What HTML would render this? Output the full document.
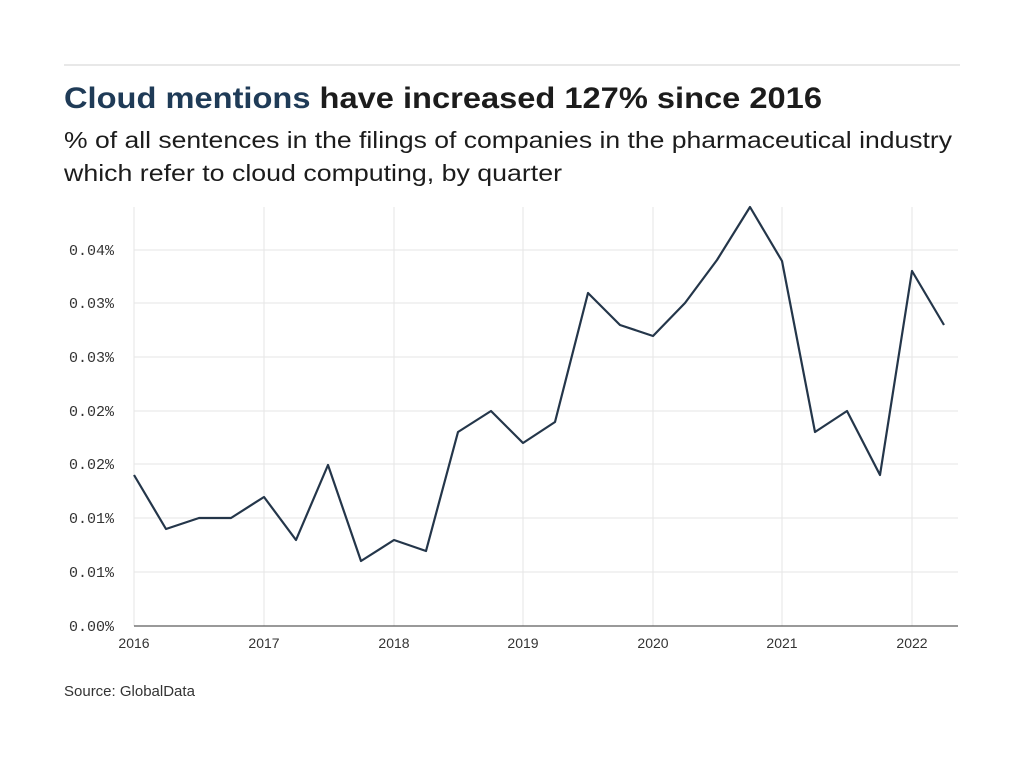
<!DOCTYPE html>
<html><head><meta charset="utf-8"><style>
body{margin:0;background:#fff;width:1024px;height:768px;overflow:hidden;font-family:"Liberation Sans",sans-serif;}
</style></head><body>
<svg width="1024" height="768" xmlns="http://www.w3.org/2000/svg">
<line x1="64" y1="65" x2="960" y2="65" stroke="#d0d0d0" stroke-width="1"/>
<text x="64" y="108" font-size="30" font-weight="bold" fill="#1c1c1c" textLength="758" lengthAdjust="spacingAndGlyphs"><tspan fill="#1f3b57">Cloud mentions</tspan> have increased 127% since 2016</text>
<text x="64" y="148" font-size="23" fill="#1c1c1c" textLength="888" lengthAdjust="spacingAndGlyphs">% of all sentences in the filings of companies in the pharmaceutical industry</text>
<text x="64" y="181" font-size="23" fill="#1c1c1c" textLength="498" lengthAdjust="spacingAndGlyphs">which refer to cloud computing, by quarter</text>
<g stroke="#e6e6e6" stroke-width="1">
<line x1="134" y1="572" x2="958" y2="572"/><line x1="134" y1="518" x2="958" y2="518"/>
<line x1="134" y1="464" x2="958" y2="464"/><line x1="134" y1="411" x2="958" y2="411"/>
<line x1="134" y1="357" x2="958" y2="357"/><line x1="134" y1="303" x2="958" y2="303"/>
<line x1="134" y1="250" x2="958" y2="250"/>
<line x1="134" y1="207" x2="134" y2="626"/><line x1="264" y1="207" x2="264" y2="626"/>
<line x1="394" y1="207" x2="394" y2="626"/><line x1="523" y1="207" x2="523" y2="626"/>
<line x1="653" y1="207" x2="653" y2="626"/><line x1="782" y1="207" x2="782" y2="626"/>
<line x1="912" y1="207" x2="912" y2="626"/>
</g>
<line x1="134" y1="626" x2="958" y2="626" stroke="#333" stroke-width="1"/>
<g font-family="Liberation Mono,monospace" font-size="15" fill="#333" text-anchor="end">
<text x="114" y="631">0.00%</text><text x="114" y="577">0.01%</text><text x="114" y="523">0.01%</text>
<text x="114" y="469">0.02%</text><text x="114" y="416">0.02%</text><text x="114" y="362">0.03%</text>
<text x="114" y="308">0.03%</text><text x="114" y="255">0.04%</text>
</g>
<g font-size="14" fill="#333" text-anchor="middle">
<text x="134" y="648">2016</text><text x="264" y="648">2017</text><text x="394" y="648">2018</text>
<text x="523" y="648">2019</text><text x="653" y="648">2020</text><text x="782" y="648">2021</text>
<text x="912" y="648">2022</text>
</g>
<polyline fill="none" stroke="#24364a" stroke-width="2.2" stroke-linejoin="round" points="134,475 166,529 199,518 231,518 264,497 296,540 328,465 361,561 394,540 426,551 458,432 491,411 523,443 555,422 588,293 620,325 653,336 685,303 717,260 750,207 782,261 815,432 847,411 880,475 912,271 944,325"/>
<text x="64" y="696" font-size="15" fill="#333">Source: GlobalData</text>
</svg>
</body></html>
